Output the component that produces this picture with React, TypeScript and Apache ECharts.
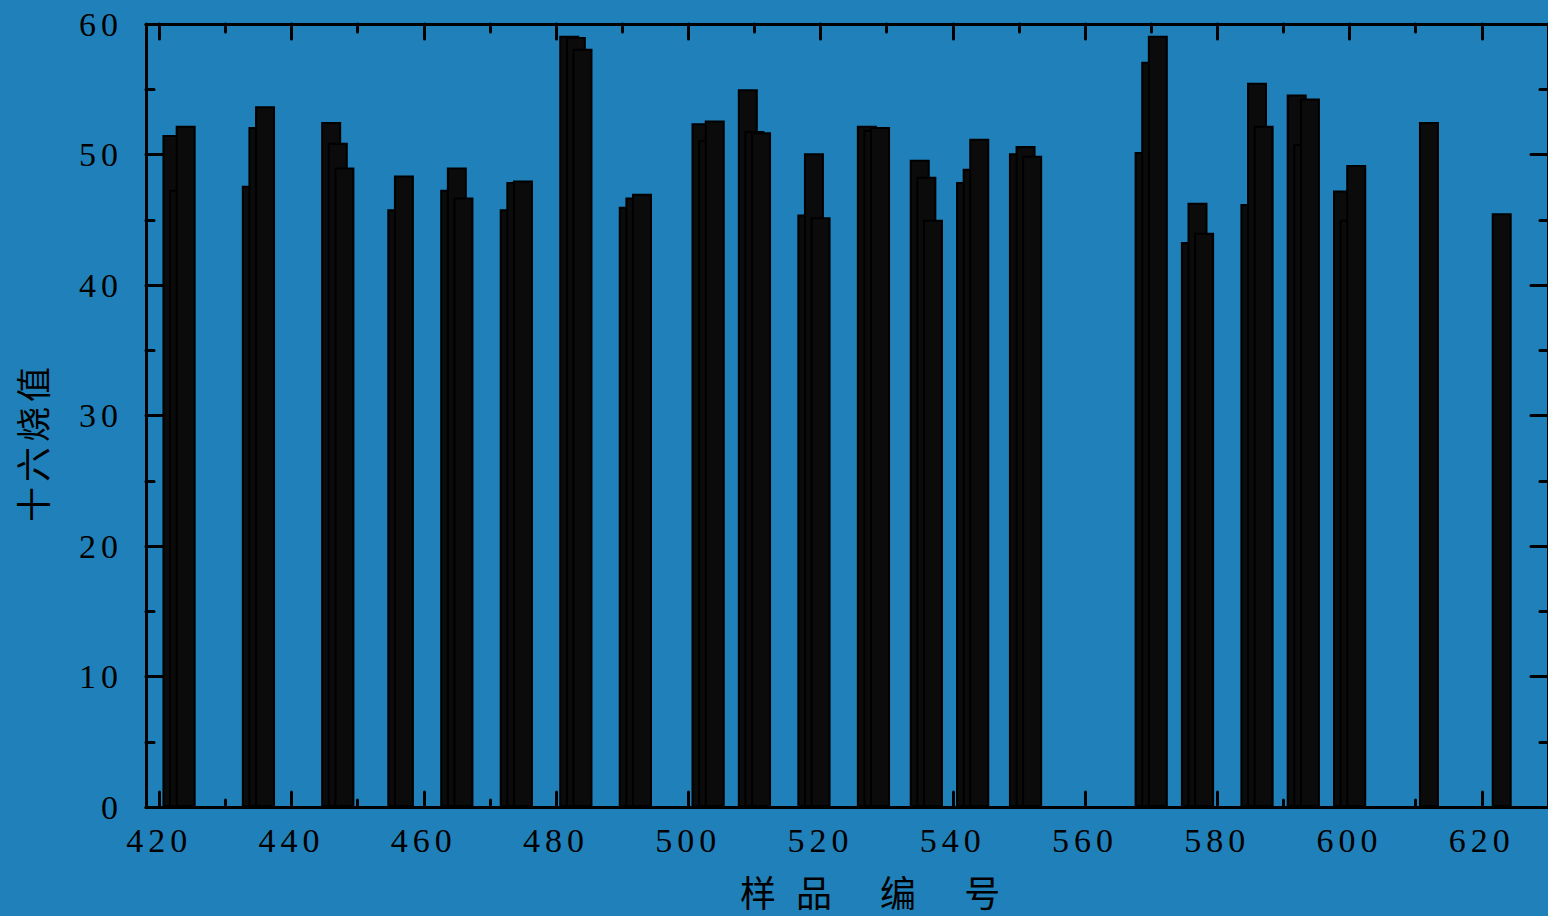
import React, { useEffect, useRef } from "react";
import * as echarts from "echarts";

// ---- data ----
const samples = [
  422, 423, 424, 434, 435, 436, 446, 447, 448, 456, 457, 464, 465, 466, 473, 474, 475,
  482, 483, 484, 491, 492, 493, 502, 503, 504, 509, 510, 511, 518, 519, 520, 527, 528, 529,
  535, 536, 537, 542, 543, 544, 550, 551, 552, 569, 570, 571, 576, 577, 578, 585, 586, 587,
  592, 593, 594, 599, 600, 601, 612, 623,
];
const cetaneValues = [
  51.5, 47.3, 52.2, 47.6, 52.1, 53.7, 52.5, 50.9, 49.0, 45.8, 48.4, 47.3, 49.0, 46.7, 45.8, 47.9, 48.0,
  59.1, 59.0, 58.1, 46.0, 46.7, 47.0, 52.4, 51.1, 52.6, 55.0, 51.8, 51.7, 45.4, 50.1, 45.2, 52.2, 51.9, 52.1,
  49.6, 48.3, 45.0, 47.9, 48.9, 51.2, 50.1, 50.65, 49.9, 50.2, 57.1, 59.1, 43.3, 46.3, 44.0, 46.2, 55.5, 52.2,
  54.6, 50.8, 54.3, 47.25, 45.0, 49.2, 52.5, 45.5,
];
const xMajorTicks = [420, 440, 460, 480, 500, 520, 540, 560, 580, 600, 620];
const xMinorTicks = [430, 450, 470, 490, 510, 530, 550, 570, 590, 610];
const xRange = [418, 630];
const yRange = [0, 60];
const yStep = 10;
const xAxisTitle = "样品 编 号";
const yAxisTitle = "十六烧值";

const INK = "#000";
const BG = "#2080b9";

export default function App() {
  const ref = useRef<HTMLDivElement>(null);

  useEffect(() => {
    if (!ref.current) return;
    const chart = echarts.init(ref.current, null, { renderer: "svg" });

    const labelFont = {
      fontFamily: '"Liberation Serif", "DejaVu Serif", serif',
      fontSize: 34,
      color: INK,
    };
    const lineStyle = { color: INK, width: 3 };

    const xBase = (position: string, ticks: number[], len: number, showLine: boolean, showLabel: boolean) => ({
      type: "value",
      position,
      min: xRange[0],
      max: xRange[1],
      axisLine: { show: showLine, lineStyle },
      axisTick: {
        show: true,
        inside: true,
        length: len,
        customValues: ticks,
        lineStyle: { color: INK, width: 3, cap: "round" },
      },
      axisLabel: showLabel
        ? { show: true, customValues: ticks, margin: 16, ...labelFont }
        : { show: false },
      splitLine: { show: false },
    });

    const yBase = (position: string, showLabel: boolean) => ({
      type: "value",
      position,
      min: yRange[0],
      max: yRange[1],
      interval: yStep,
      axisLine: { show: true, lineStyle },
      axisTick: { show: true, inside: true, length: 17, lineStyle: { color: INK, width: 3, cap: "round" } },
      minorTick: { show: true, splitNumber: 2, length: 8, lineStyle: { color: INK, width: 3, cap: "round" } },
      axisLabel: showLabel ? { show: true, margin: 23, ...labelFont } : { show: false },
      splitLine: { show: false },
    });

    chart.setOption({
      animation: false,
      backgroundColor: BG,
      grid: { left: 146, top: 24, width: 1404.5, height: 783, containLabel: false },
      xAxis: [
        xBase("bottom", xMajorTicks, 15, true, true),
        xBase("bottom", xMinorTicks, 7, false, false),
        xBase("top", xMajorTicks, 15, true, false),
        xBase("top", xMinorTicks, 8, false, false),
      ],
      yAxis: [yBase("left", true), yBase("right", false)],
      series: [
        {
          type: "bar",
          xAxisIndex: 0,
          yAxisIndex: 0,
          barWidth: 20,
          data: samples.map((s, i) => [s, cetaneValues[i]]),
          itemStyle: { color: "#0b0b0b", borderColor: INK, borderWidth: 2 },
        },
      ],
      graphic: [
        {
          type: "text",
          x: 31,
          y: 442,
          rotation: Math.PI / 2,
          style: {
            text: yAxisTitle,
            fill: INK,
            fontSize: 35,
            fontFamily: '"Noto Sans CJK SC", sans-serif',
            align: "center",
            verticalAlign: "middle",
          },
        },
        {
          type: "text",
          x: 740,
          y: 891,
          style: {
            text: xAxisTitle,
            fill: INK,
            fontSize: 36,
            fontFamily: '"Noto Sans CJK SC", sans-serif',
            align: "left",
            verticalAlign: "middle",
          },
        },
      ],
    });

    return () => chart.dispose();
  }, []);

  return (
    <>
      <style>{`
        body { margin: 0; }
        #chart-box text, #chart-box tspan { letter-spacing: 5px; }
        #chart-box text[style*="36px"], #chart-box text[font-size="36"], #chart-box text[font-size="36px"] { letter-spacing: 20px; }
      `}</style>
      <div
        id="chart-box"
        ref={ref}
        style={{ position: "fixed", left: 0, top: 0, width: 1548, height: 916, background: BG }}
      />
    </>
  );
}
